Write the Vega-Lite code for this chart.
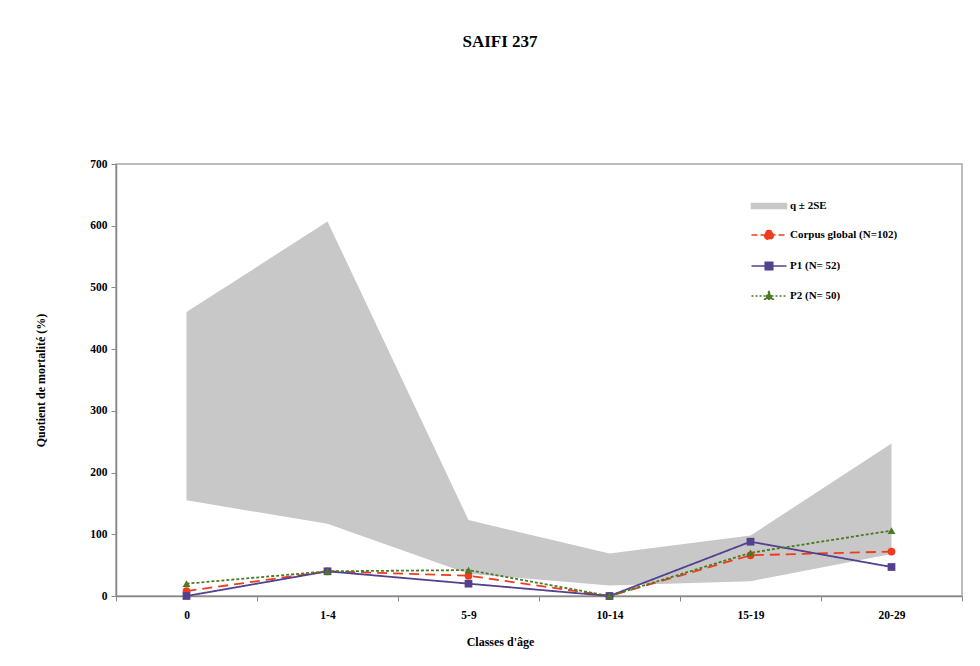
{
  "$schema": "https://vega.github.io/schema/vega-lite/v6.json",
  "autosize": {"type": "none"},
  "width": 846,
  "height": 432,
  "padding": {"left": 116, "top": 164, "right": 18, "bottom": 70},
  "background": "white",
  "config": {
    "font": "Liberation Serif",
    "view": {"stroke": "#a8a8a8", "strokeWidth": 1.5},
    "axis": {"labelFont": "Liberation Serif", "titleFont": "Liberation Serif", "labelFontWeight": "bold", "titleFontWeight": "bold", "labelColor": "black", "titleColor": "black", "domainColor": "#888888", "tickColor": "#888888", "domainWidth": 1.5, "labelFontSize": 11.5, "titleFontSize": 12, "grid": false}
  },
  "title": {"text": "SAIFI 237", "font": "Liberation Serif", "fontSize": 17, "fontWeight": "bold", "color": "black", "anchor": "middle", "offset": 107, "dx": -39},
  "datasets": {
    "band": [
      {"age": "0", "lo": 155, "hi": 460, "serie": "q ± 2SE"},
      {"age": "1-4", "lo": 117, "hi": 607, "serie": "q ± 2SE"},
      {"age": "5-9", "lo": 36, "hi": 123, "serie": "q ± 2SE"},
      {"age": "10-14", "lo": 17, "hi": 69, "serie": "q ± 2SE"},
      {"age": "15-19", "lo": 24, "hi": 98, "serie": "q ± 2SE"},
      {"age": "20-29", "lo": 68, "hi": 247, "serie": "q ± 2SE"}
    ],
    "lines": [
      {"age": "0", "serie": "Corpus global (N=102)", "q": 8},
      {"age": "1-4", "serie": "Corpus global (N=102)", "q": 40},
      {"age": "5-9", "serie": "Corpus global (N=102)", "q": 33},
      {"age": "10-14", "serie": "Corpus global (N=102)", "q": 0},
      {"age": "15-19", "serie": "Corpus global (N=102)", "q": 66},
      {"age": "20-29", "serie": "Corpus global (N=102)", "q": 72},
      {"age": "0", "serie": "P1 (N= 52)", "q": 0},
      {"age": "1-4", "serie": "P1 (N= 52)", "q": 40},
      {"age": "5-9", "serie": "P1 (N= 52)", "q": 20},
      {"age": "10-14", "serie": "P1 (N= 52)", "q": 0},
      {"age": "15-19", "serie": "P1 (N= 52)", "q": 88},
      {"age": "20-29", "serie": "P1 (N= 52)", "q": 47},
      {"age": "0", "serie": "P2 (N= 50)", "q": 20},
      {"age": "1-4", "serie": "P2 (N= 50)", "q": 40},
      {"age": "5-9", "serie": "P2 (N= 50)", "q": 42},
      {"age": "10-14", "serie": "P2 (N= 50)", "q": 0},
      {"age": "15-19", "serie": "P2 (N= 50)", "q": 70},
      {"age": "20-29", "serie": "P2 (N= 50)", "q": 106}
    ]
  },
  "encoding": {
    "x": {"field": "age", "type": "ordinal", "sort": ["0", "1-4", "5-9", "10-14", "15-19", "20-29"], "bandPosition": 0.5,
      "scale": {"type": "band", "paddingInner": 0, "paddingOuter": 0},
      "axis": {"title": "Classes d'âge", "labelAngle": 0, "tickBand": "extent", "tickSize": 5, "labelPadding": 8, "titlePadding": 16, "titleX": 384}},
    "color": {"field": "serie", "type": "nominal",
      "scale": {"domain": ["q ± 2SE", "Corpus global (N=102)", "P1 (N= 52)", "P2 (N= 50)"], "range": ["#c8c8c8", "#f03c1e", "#54418e", "#4b7a22"]},
      "legend": {"title": null, "orient": "none", "legendX": 642, "legendY": 31, "labelFont": "Liberation Serif", "labelFontWeight": "bold", "labelFontSize": 11, "labelColor": "black", "rowPadding": 12, "symbolSize": 400, "labelOffset": 10,
        "encode": {"symbols": {"update": {
          "shape": {"signal": "datum.index === 0 ? 'M-1.75,-0.26H1.75V0.26H-1.75Z' : datum.index === 1 ? 'M-1.75,0H1.75M-0.45,0A0.45,0.45 0 1,0 0.45,0A0.45,0.45 0 1,0 -0.45,0Z' : datum.index === 2 ? 'M-1.75,0H1.75M-0.38,-0.38H0.38V0.38H-0.38Z' : 'M-1.75,0H1.75M0,-0.45L0.42,0.32H-0.42Z'"},
          "size": {"value": 400},
          "fill": {"scale": "color", "field": "value"},
          "stroke": {"scale": "color", "field": "value"},
          "strokeWidth": {"value": 1.5},
          "strokeDash": {"signal": "datum.index === 1 ? [6,3] : datum.index === 3 ? [2,2] : [1,0]"},
          "opacity": {"value": 1},
          "fillOpacity": {"value": 1}
        }}}}
    }
  },
  "layer": [
    {
      "data": {"name": "band"},
      "mark": {"type": "area", "opacity": 1},
      "encoding": {
        "y": {"field": "hi", "type": "quantitative", "scale": {"domain": [0, 700]},
          "axis": {"title": "Quotient de mortalité (%)", "values": [0, 100, 200, 300, 400, 500, 600, 700], "tickSize": 5, "labelPadding": 4, "titlePadding": 42}},
        "y2": {"field": "lo"}
      }
    },
    {
      "data": {"name": "lines"},
      "mark": {"type": "line", "strokeWidth": 1.8},
      "encoding": {
        "y": {"field": "q", "type": "quantitative"},
        "strokeDash": {"field": "serie", "type": "nominal", "legend": null,
          "scale": {"domain": ["Corpus global (N=102)", "P1 (N= 52)", "P2 (N= 50)"], "range": [[10, 6], [1, 0], [3, 2]]}},
        "strokeWidth": {"field": "serie", "type": "nominal", "legend": null,
          "scale": {"domain": ["Corpus global (N=102)", "P1 (N= 52)", "P2 (N= 50)"], "range": [2.5, 1.5, 1.5]}}
      }
    },
    {
      "data": {"name": "lines"},
      "mark": {"type": "point", "filled": true, "opacity": 1, "size": 60},
      "encoding": {
        "y": {"field": "q", "type": "quantitative"},
        "shape": {"field": "serie", "type": "nominal", "legend": null,
          "scale": {"domain": ["Corpus global (N=102)", "P1 (N= 52)", "P2 (N= 50)"], "range": ["circle", "square", "triangle-up"]}}
      }
    }
  ]
}
